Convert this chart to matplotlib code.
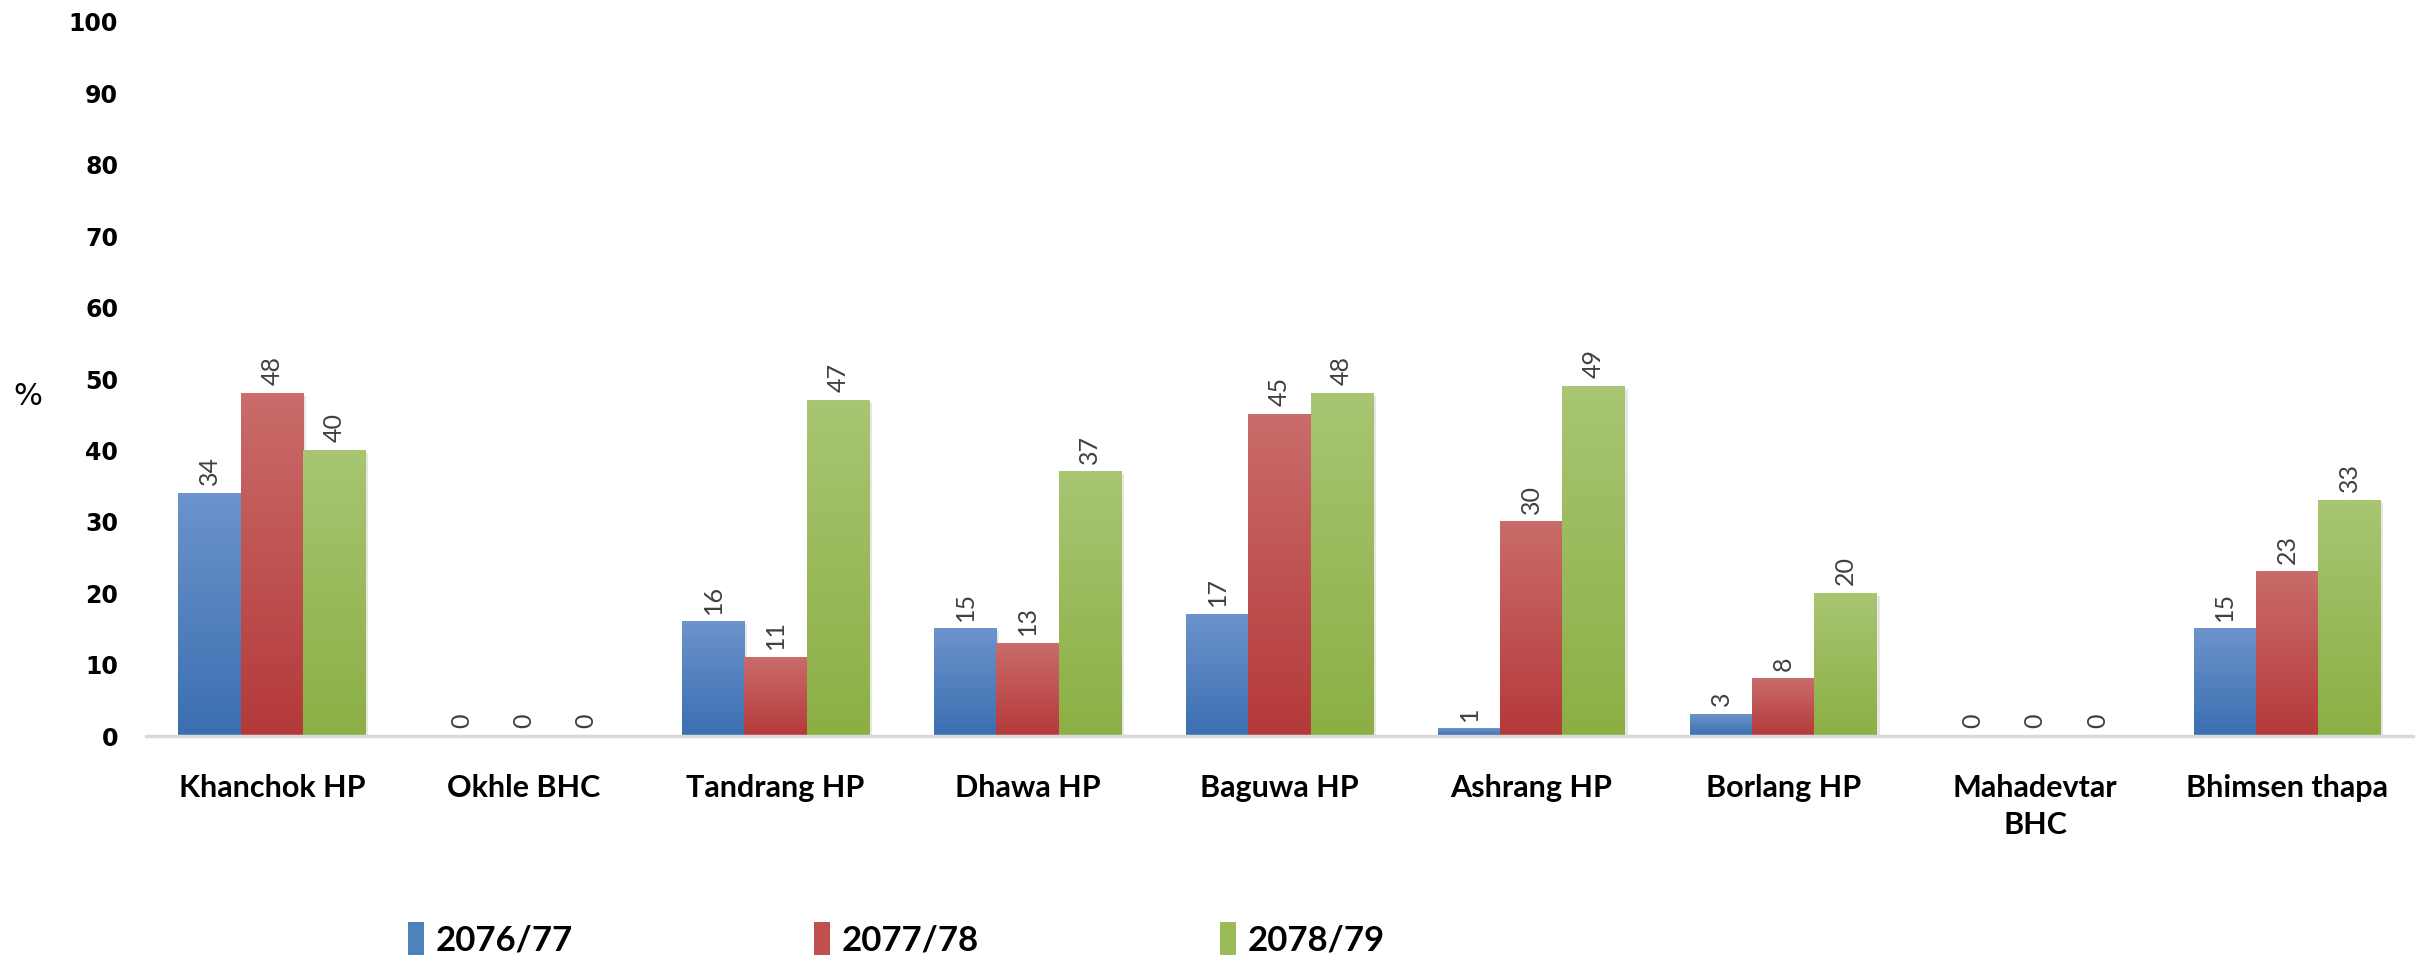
import numpy as np
import matplotlib.pyplot as plt
from matplotlib.colors import LinearSegmentedColormap
from matplotlib.patches import Patch

# data
facilities = ["Khanchok HP", "Okhle BHC", "Tandrang HP", "Dhawa HP", "Baguwa HP",
              "Ashrang HP", "Borlang HP", "Mahadevtar\nBHC", "Bhimsen thapa"]
years = ["2076/77", "2077/78", "2078/79"]
y2076 = [34, 0, 16, 15, 17, 1, 3, 0, 15]
y2077 = [48, 0, 11, 13, 45, 30, 8, 0, 23]
y2078 = [40, 0, 47, 37, 48, 49, 20, 0, 33]

# gradient (top, bottom) per series
grads = [("#6c93cb", "#3b6fb1"), ("#c96c6a", "#b5393a"), ("#a8c572", "#8caf44")]
mids = ["#4f81bd", "#c0504d", "#9bbb59"]

fig = plt.figure(figsize=(24.3, 9.56), dpi=100)
ax = fig.add_axes([0.060, 0.230, 0.933, 0.747])

x = np.arange(len(facilities))
w = 0.247
series = [y2076, y2077, y2078]
for i, vals in enumerate(series):
    pos = x + (i - 1) * w
    cmap = LinearSegmentedColormap.from_list("g%d" % i, [grads[i][1], grads[i][0]])
    bars = ax.bar(pos, vals, width=w, color="none", zorder=3)
    for b, v in zip(bars, vals):
        x0 = b.get_x()
        if v > 0:
            # soft shadow
            ax.add_patch(plt.Rectangle((x0 + 0.012, -0.35), w, v, color="#c8c8c8",
                                       alpha=0.45, lw=0, zorder=2))
            grad = np.linspace(0, 1, 100).reshape(-1, 1)
            ax.imshow(grad, extent=[x0, x0 + w, 0, v], origin="lower", aspect="auto",
                      cmap=cmap, zorder=3)
        ax.annotate(str(v), (x0 + w / 2, v), xytext=(0, 6), textcoords="offset points",
                    rotation=90, ha="center", va="bottom", fontsize=18,
                    color="#404040", family="Lato")

ax.set_xlim(-0.5, len(facilities) - 0.5)
ax.set_ylim(0, 100)
ax.set_yticks(range(0, 101, 10))
ax.set_xticks(x)
ax.set_xticklabels(facilities, fontsize=22, fontweight="bold", family="Lato",
                   linespacing=1.4)
for lbl in ax.get_yticklabels():
    lbl.set_fontsize(17)
    lbl.set_fontweight("bold")
ax.tick_params(axis="both", length=0)
ax.tick_params(axis="y", pad=20)
ax.tick_params(axis="x", pad=27)

for s in ["top", "right", "left"]:
    ax.spines[s].set_visible(False)
ax.spines["bottom"].set_color("#d9d9d9")
ax.spines["bottom"].set_linewidth(2.5)
ax.spines["bottom"].set_zorder(4)

ax.set_ylabel("%", rotation=0, fontsize=22, va="center")
ax.yaxis.set_label_coords(-0.052, 0.475)

handles = [Patch(facecolor=mids[i], label=years[i]) for i in range(3)]
fig.legend(handles=handles, loc="center left", bbox_to_anchor=(0.155, 0.018), ncol=3,
           frameon=False, handlelength=0.45, handleheight=1.1, handletextpad=0.35,
           columnspacing=6.95,
           prop={"family": "Lato", "weight": "bold", "size": 25})

plt.savefig("out.png", dpi=100)
plt.close()
